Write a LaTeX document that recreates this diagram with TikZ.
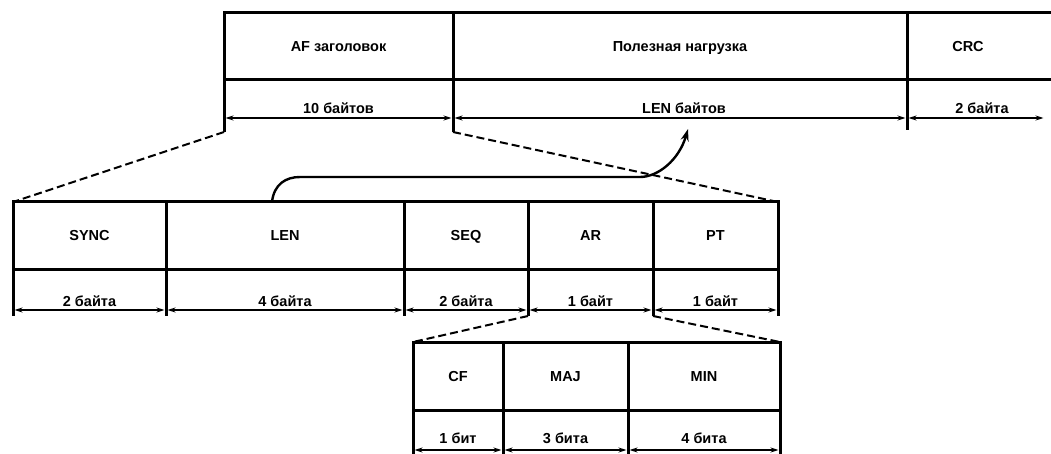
\documentclass[tikz,border=0pt]{standalone}
\usepackage{fontspec}
\setmainfont{Liberation Sans}
\usetikzlibrary{arrows.meta,calc}
\begin{document}
\begin{tikzpicture}[x=1pt,y=-1pt,
  txt/.style={font=\fontsize{14.5}{17}\selectfont\bfseries},
  cell/.style={draw, line width=3pt, rectangle, inner sep=0pt, outer sep=0pt, txt, text height=10.4pt, text depth=0pt},
  lbl/.style={inner sep=0pt, anchor=base, txt},
  wall/.style={line width=3pt},
  dimline/.style={line width=1.8pt, shorten <=1.5pt, shorten >=1.5pt,
    {Stealth[length=8pt,width=5pt]}-{Stealth[length=8pt,width=5pt]}},
  zoomline/.style={line width=2pt, dash pattern=on 8pt off 4pt},
  linkarrow/.style={line width=2.4pt, -{Stealth[length=12pt,width=8pt]}}
]
\useasboundingbox (0,0) rectangle (1051,454);

% ---------- top table ----------
\node[cell, minimum width=229pt, minimum height=67pt] (af)  at (338.5,46.5) {AF заголовок};
\node[cell, minimum width=454pt, minimum height=67pt] (pay) at (680,46.5) {Полезная нагрузка};
\node[cell, minimum width=155pt, minimum height=67pt] (crc) at (984.5,46.5) {};
\node[txt, inner sep=0pt, text height=10.4pt, text depth=0pt] (crct) at (968,46.5) {CRC};
\draw[wall] (af.south west) -- ++(0,52) coordinate (afl);
\draw[wall] (pay.south west) -- ++(0,52) coordinate (payl);
\draw[wall] (crc.south west) -- ++(0,50) coordinate (crcl);
\coordinate (crcr) at (1045,118);
\draw[dimline] ($(af.south west)+(0,38)$) -- ($(pay.south west)+(0,38)$);
\draw[dimline] ($(pay.south west)+(0,38)$) -- ($(crc.south west)+(0,38)$);
\draw[dimline] ($(crc.south west)+(0,38)$) -- (crcr);
\node[lbl] (afb)  at (338.5,114) {10 байтов};
\node[lbl] (payb) at (684,114) {LEN байтов};
\node[lbl] (crcb) at (982,114) {2 байта};

% ---------- middle table ----------
\node[cell, minimum width=153pt, minimum height=67pt] (sync) at (89.5,235.5) {SYNC};
\node[cell, minimum width=238pt, minimum height=67pt] (len)  at (285,235.5) {LEN};
\node[cell, minimum width=124pt, minimum height=67pt] (seq)  at (466,235.5) {SEQ};
\node[cell, minimum width=125pt, minimum height=67pt] (ar)   at (590.5,235.5) {AR};
\node[cell, minimum width=125pt, minimum height=67pt] (pt)   at (715.5,235.5) {PT};
\foreach \n in {sync,len,seq,ar,pt}{
  \draw[wall] (\n.south west) -- ++(0,47);
}
\draw[wall] (pt.south east) -- ++(0,47);
\draw[dimline] ($(sync.south west)+(0,41)$) -- ($(sync.south east)+(0,41)$);
\draw[dimline] ($(len.south west)+(0,41)$) -- ($(len.south east)+(0,41)$);
\draw[dimline] ($(seq.south west)+(0,41)$) -- ($(seq.south east)+(0,41)$);
\draw[dimline] ($(ar.south west)+(0,41)$) -- ($(ar.south east)+(0,41)$);
\draw[dimline] ($(pt.south west)+(0,41)$) -- ($(pt.south east)+(0,41)$);
\node[lbl] (syncb) at (89.5,306) {2 байта};
\node[lbl] (lenb)  at (285,306) {4 байта};
\node[lbl] (seqb)  at (466,306) {2 байта};
\node[lbl] (arb)   at (590.5,306) {1 байт};
\node[lbl] (ptb)   at (715.5,306) {1 байт};
\coordinate (arl) at ($(ar.south west)+(0,47)$);
\coordinate (ptl) at ($(pt.south west)+(0,47)$);

% ---------- bottom table ----------
\node[cell, minimum width=90pt,  minimum height=68pt] (cf)  at (458,376) {CF};
\node[cell, minimum width=125pt, minimum height=68pt] (maj) at (565.5,376) {MAJ};
\node[cell, minimum width=152pt, minimum height=68pt] (min) at (704,376) {MIN};
\foreach \n in {cf,maj,min}{
  \draw[wall] (\n.south west) -- ++(0,50);
}
\draw[wall] (min.south east) -- ++(0,50);
\draw[dimline] ($(cf.south west)+(0,40)$) -- ($(cf.south east)+(0,40)$);
\draw[dimline] ($(maj.south west)+(0,40)$) -- ($(maj.south east)+(0,40)$);
\draw[dimline] ($(min.south west)+(0,40)$) -- ($(min.south east)+(0,40)$);
\node[lbl] (cfb)  at (458,443) {1 бит};
\node[lbl] (majb) at (565.5,443) {3 бита};
\node[lbl] (minb) at (704,443) {4 бита};

% ---------- zoom (dashed) lines ----------
\draw[zoomline] (afl) -- (sync.north west);
\draw[zoomline] (payl) -- (pt.north east);
\draw[zoomline] (arl) -- (cf.north west);
\draw[zoomline] (ptl) -- (min.north east);

% ---------- LEN link arrow ----------
\coordinate (arcstart) at ($(len.north west)+(106,0)$);
\coordinate (lentarget) at (688,129);
\draw[linkarrow] (arcstart) .. controls ($(arcstart)+(2,-18)$) and ($(arcstart)+(14,-25)$) .. ($(arcstart)+(28,-25)$)
  -- (640,177) .. controls (658,177) and (679,160) .. (lentarget);
\end{tikzpicture}
\end{document}
